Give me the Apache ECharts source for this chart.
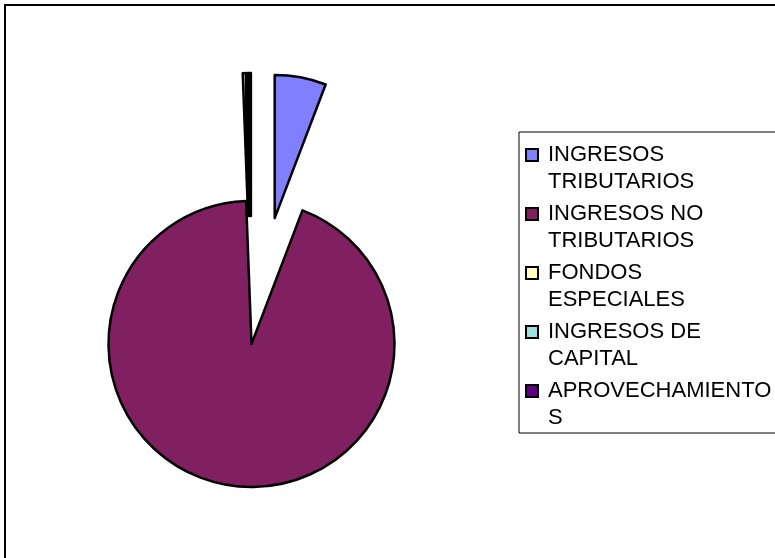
<!DOCTYPE html>
<html lang="es">
<head>
    <meta charset="UTF-8">
    <title>Ingresos</title>
    <style>
        html, body { margin: 0; padding: 0; background: #fff; }
        #main { width: 775px; height: 558px; }
    </style>
</head>
<body>
<div id="main"></div>
<script src="https://cdn.jsdelivr.net/npm/echarts@6/dist/echarts.min.js"></script>
<script>
    // datos del grafico
    var names = ['INGRESOS TRIBUTARIOS', 'INGRESOS NO TRIBUTARIOS', 'FONDOS ESPECIALES', 'INGRESOS DE CAPITAL', 'APROVECHAMIENTOS'];
    var legendLines = [['INGRESOS', 'TRIBUTARIOS'], ['INGRESOS NO', 'TRIBUTARIOS'], ['FONDOS', 'ESPECIALES'], ['INGRESOS DE', 'CAPITAL'], ['APROVECHAMIENTO', 'S']];
    var values = [5.8, 93.6, 0.35, 0.1, 0.15];
    var exploded = [true, false, true, true, true];
    var colors = ['#8080FF', '#802060', '#FFFFC0', '#A0E0E0', '#600080'];

    var seriesData = [];
    var rich = {
        t: { fontFamily: 'Liberation Sans, Arial', fontSize: 22, lineHeight: 27, color: '#000' },
        sp: { width: 11 },
        g: { width: 21 }
    };
    for (var i = 0; i < names.length; i++) {
        seriesData.push({ value: values[i], name: names[i], selected: exploded[i], itemStyle: { color: colors[i] } });
        rich['k' + i] = { width: 10, height: 10, backgroundColor: colors[i], borderColor: '#000', borderWidth: 2 };
    }

    var option = {
        animation: false,
        backgroundColor: '#fff',
        graphic: [{
            type: 'rect',
            shape: { x: 5, y: 5, width: 900, height: 700 },
            style: { fill: 'none', stroke: '#000', lineWidth: 2 },
            silent: true
        }],
        legend: {
            orient: 'vertical',
            left: 519,
            top: 132,
            data: names,
            icon: 'rect',
            itemWidth: 0,
            itemHeight: 0,
            itemGap: 10,
            itemStyle: { opacity: 0, borderWidth: 0 },
            padding: [12, 30, 4, 3],
            borderColor: '#000',
            borderWidth: 1,
            backgroundColor: '#fff',
            selectedMode: false,
            textStyle: { rich: rich },
            formatter: function (name) {
                var idx = names.indexOf(name);
                var l = legendLines[idx];
                return '{k' + idx + '|}{sp|}{t|' + l[0] + '}\n{g|}{t|' + l[1] + '}';
            }
        },
        series: [{
            type: 'pie',
            center: [251.5, 344],
            radius: 143,
            startAngle: 90,
            clockwise: true,
            selectedMode: 'multiple',
            selectedOffset: 128,
            avoidLabelOverlap: false,
            label: { show: false },
            labelLine: { show: false },
            itemStyle: { borderColor: '#000', borderWidth: 2.5 },
            emphasis: { scale: false, itemStyle: { borderColor: '#000', borderWidth: 2.5 } },
            select: { itemStyle: { borderColor: '#000', borderWidth: 2.5 } },
            data: seriesData
        }]
    };

    var chart = echarts.init(document.getElementById('main'), null, { renderer: 'canvas' });
    chart.setOption(option);
</script>
</body>
</html>
